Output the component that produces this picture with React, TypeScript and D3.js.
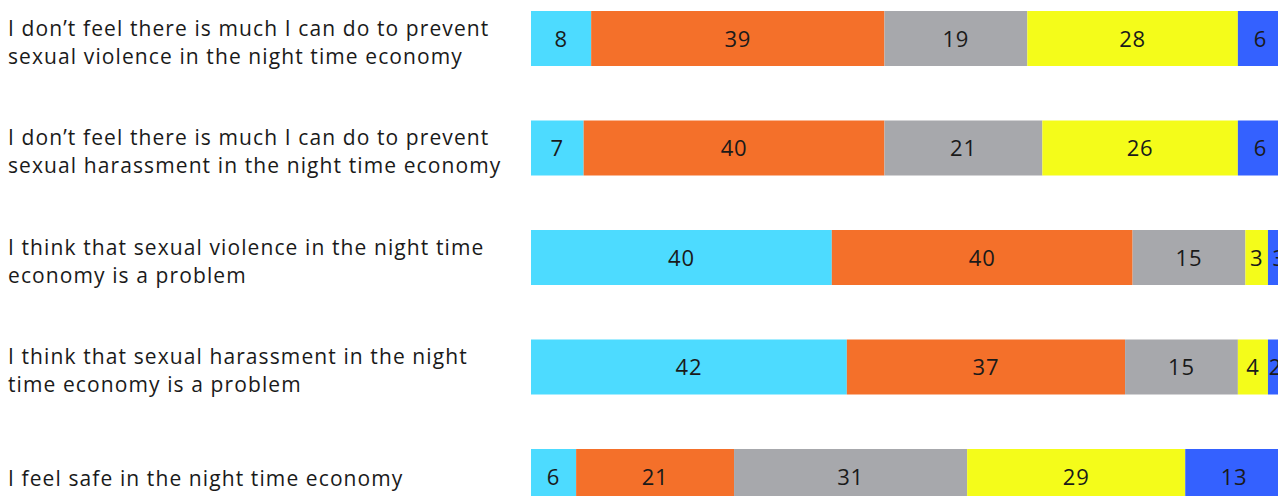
import React from "react";
import * as d3 from "d3";

const categories = [
  ["I don’t feel there is much I can do to prevent", "sexual violence in the night time economy"],
  ["I don’t feel there is much I can do to prevent", "sexual harassment in the night time economy"],
  ["I think that sexual violence in the night time", "economy is a problem"],
  ["I think that sexual harassment in the night", "time economy is a problem"],
  ["I feel safe in the night time economy"],
];

const stronglyAgree = [8, 7, 40, 42, 6];
const agree = [39, 40, 40, 37, 21];
const neither = [19, 21, 15, 15, 31];
const disagree = [28, 26, 3, 4, 29];
const stronglyDisagree = [6, 6, 3, 2, 13];

const seriesKeys = ["stronglyAgree", "agree", "neither", "disagree", "stronglyDisagree"];
const seriesColors = ["#4DDBFF", "#F4702A", "#A7A8AC", "#F4FC1A", "#3461FF"];

const W = 1278;
const H = 496;

export default function App() {
  const rows = categories.map((c, i) => ({
    idx: i,
    stronglyAgree: stronglyAgree[i],
    agree: agree[i],
    neither: neither[i],
    disagree: disagree[i],
    stronglyDisagree: stronglyDisagree[i],
  }));
  const stack = d3.stack<any>().keys(seriesKeys)(rows);
  const x = d3.scaleLinear().domain([0, 100]).range([531, 1283]);
  const y = d3.scalePoint<number>().domain(d3.range(categories.length)).range([38.5, 476.5]);
  const bh = 55;
  const font = "'Open Sans', 'Noto Sans', sans-serif";

  return (
    <svg width={W} height={H} style={{ position: "absolute", left: 0, top: 0, background: "#fff" }}>
      {stack.map((s, si) => (
        <g key={si} fill={seriesColors[si]}>
          {s.map((d, i) => (
            <rect key={i} x={x(d[0])} y={(y(i) as number) - bh / 2} width={x(d[1]) - x(d[0])} height={bh} />
          ))}
        </g>
      ))}
      {stack.map((s, si) => (
        <g key={"t" + si} fontFamily={font} fontSize={22} fill="#1a1a1a" textAnchor="middle" letterSpacing={0.8}>
          {s.map((d, i) => (
            <text key={i} x={(x(d[0]) + x(d[1])) / 2} y={(y(i) as number) + 8}>
              {d[1] - d[0]}
            </text>
          ))}
        </g>
      ))}
      <g fontFamily={font} fontSize={21} fill="#1a1a1a" letterSpacing={1.1}>
        {categories.map((lines, i) => {
          const c = y(i) as number;
          const base = lines.length === 1 ? c + 9 : c - 3;
          return (
            <text key={i} x={8} y={base}>
              {lines.map((l, li) => (
                <tspan key={li} x={8} y={base + li * 28}>
                  {l}
                </tspan>
              ))}
            </text>
          );
        })}
      </g>
    </svg>
  );
}
